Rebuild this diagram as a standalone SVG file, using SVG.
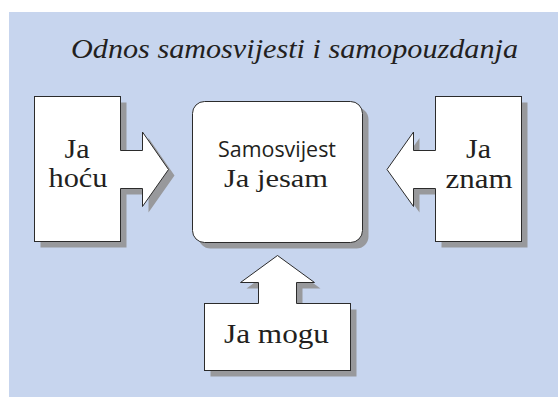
<svg xmlns="http://www.w3.org/2000/svg" width="558" height="397" viewBox="0 0 558 397">
  <style>
    .shape { fill: #ffffff; stroke: #2b2b2b; stroke-width: 1; stroke-linejoin: miter; }
    .fillonly { fill: #ffffff; stroke: none; }
    .edge { fill: none; stroke: #2b2b2b; stroke-width: 1; stroke-linejoin: miter; }
    .shadow { fill: #98999c; stroke: none; }
    .lbl { fill: #231f20; text-anchor: middle; }
    .ser { font-family: "Liberation Serif", "Times New Roman", serif; font-size: 27px; }
    .sns { font-family: "Open Sans", "Noto Sans", sans-serif; font-size: 22px; }
    .ttl { font-family: "Liberation Serif", "Times New Roman", serif; font-style: italic; font-size: 28px; }
  </style>
  <defs>
    <rect id="s-center" x="192.5" y="101.5" width="170" height="141" rx="12" ry="12"/>
    <rect id="s-left" x="34.5" y="96.5" width="86" height="145"/>
    <rect id="s-right" x="435.5" y="96.5" width="86" height="145"/>
    <rect id="s-bottom" x="204.5" y="303.5" width="146" height="67"/>
    <polygon id="a-left" points="119,150.5 142.5,150.5 142.5,132 168.5,169.5 142.5,206.5 142.5,188.5 119,188.5"/>
    <polygon id="a-right" points="437,150.5 413.5,150.5 413.5,132 387,169.5 413.5,206.5 413.5,188.5 437,188.5"/>
    <polygon id="a-up" points="258.5,305 258.5,282.5 240.5,282.5 277.5,255.5 314.5,282.5 296.5,282.5 296.5,305"/>
  </defs>

  <rect x="9" y="12" width="549" height="385" fill="#c7d5ee"/>

  <text class="lbl ttl" x="294.5" y="57.5" textLength="447" lengthAdjust="spacingAndGlyphs">Odnos samosvijesti i samopouzdanja</text>

  <g id="shadows" transform="translate(6,6)">
    <use href="#s-center" class="shadow"/>
    <use href="#s-left" class="shadow"/>
    <use href="#s-right" class="shadow"/>
    <use href="#s-bottom" class="shadow"/>
    <use href="#a-left" class="shadow"/>
    <use href="#a-right" class="shadow"/>
    <use href="#a-up" class="shadow"/>
  </g>

  <g id="node-samosvijest">
    <use href="#s-center" class="shape"/>
    <text class="lbl sns" x="277" y="157.3" textLength="118" lengthAdjust="spacingAndGlyphs">Samosvijest</text>
    <text class="lbl ser" x="276" y="186.7" style="font-size:25px" textLength="104" lengthAdjust="spacingAndGlyphs">Ja jesam</text>
  </g>

  <g id="node-ja-hocu">
    <use href="#s-left" class="shape"/>
    <text class="lbl ser" x="77" y="157.7" textLength="25" lengthAdjust="spacingAndGlyphs">Ja</text>
    <text class="lbl ser" x="78" y="187.3" textLength="59" lengthAdjust="spacingAndGlyphs">hoću</text>
  </g>

  <g id="node-ja-znam">
    <use href="#s-right" class="shape"/>
    <text class="lbl ser" x="478.5" y="157.7" textLength="25" lengthAdjust="spacingAndGlyphs">Ja</text>
    <text class="lbl ser" x="479" y="187.7" textLength="67" lengthAdjust="spacingAndGlyphs">znam</text>
  </g>

  <g id="node-ja-mogu">
    <use href="#s-bottom" class="shape"/>
    <text class="lbl ser" x="276.5" y="343.3" textLength="105" lengthAdjust="spacingAndGlyphs">Ja mogu</text>
  </g>

  <g id="connectors">
    <use href="#a-left" class="fillonly"/>
    <polyline class="edge" points="120.5,150.5 142.5,150.5 142.5,132 168.5,169.5 142.5,206.5 142.5,188.5 120.5,188.5"/>
    <use href="#a-right" class="fillonly"/>
    <polyline class="edge" points="435.5,150.5 413.5,150.5 413.5,132 387,169.5 413.5,206.5 413.5,188.5 435.5,188.5"/>
    <use href="#a-up" class="fillonly"/>
    <polyline class="edge" points="258.5,303.5 258.5,282.5 240.5,282.5 277.5,255.5 314.5,282.5 296.5,282.5 296.5,303.5"/>
  </g>
</svg>
